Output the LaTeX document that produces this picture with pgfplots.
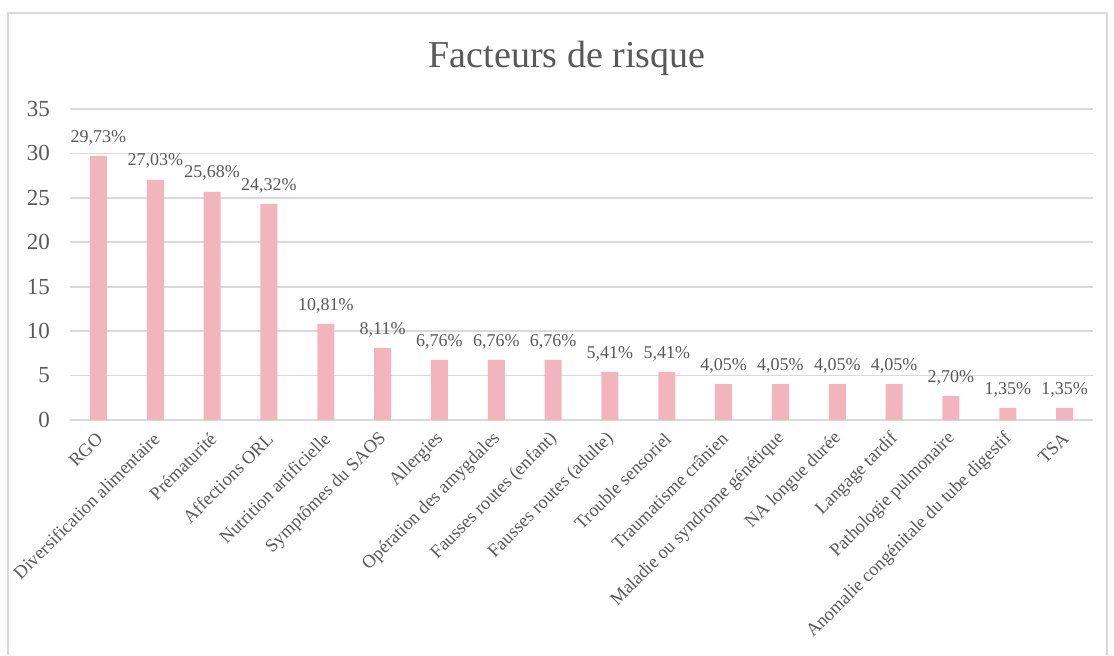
\documentclass[border=0pt]{standalone}
\usepackage{fontspec}
\setmainfont{Liberation Serif}
\usepackage{pgfplots}
\pgfplotsset{compat=1.18}
\definecolor{barPink}{HTML}{F2B5BE}
\definecolor{txtGray}{HTML}{595959}
\definecolor{gridGray}{HTML}{D9D9D9}

\begin{document}
\begin{tikzpicture}
  \useasboundingbox (0,0) rectangle (557pt,327.5pt);
  \draw[gridGray, line width=0.8pt] (4pt,0) -- (4pt,321pt) -- (553.5pt,321pt) -- (553.5pt,0);
  \node[txtGray, font=\fontsize{19}{21}\selectfont] at (283.5pt,298.5pt) {Facteurs de risque};
  \begin{axis}[
    at={(35pt,117.5pt)}, anchor=south west,
    scale only axis, width=511.5pt, height=155.5pt,
    ybar, bar width=8.5pt,
    xmin=-0.5, xmax=17.5, ymin=0, ymax=35,
    ytick={0,5,...,35},
    xtick={0,...,17},
    xticklabels={RGO, Diversification alimentaire, Prématurité, Affections ORL,
      Nutrition artificielle, Symptômes du SAOS, Allergies, Opération des amygdales,
      Fausses routes (enfant), Fausses routes (adulte), Trouble sensoriel,
      Traumatisme crânien, Maladie ou syndrome génétique, NA longue durée,
      Langage tardif, Pathologie pulmonaire, Anomalie congénitale du tube digestif, TSA},
    xticklabel style={xshift=3pt, yshift=-5.5pt, rotate=45, anchor=east, font=\fontsize{9.2}{10}\selectfont, text=txtGray},
    yticklabel style={font=\fontsize{11.5}{12}\selectfont, text=txtGray, xshift=-6.5pt},
    /pgf/number format/assume math mode=true,
    major tick length=0pt,
    axis line style={draw=none},
    ymajorgrids, grid style={gridGray, line width=0.8pt},
    nodes near coords={\pgfmathprintnumber[fixed,fixed zerofill,precision=2,use comma,assume math mode=true]{\pgfplotspointmeta}\%},
    nodes near coords style={font=\fontsize{9}{10}\selectfont, text=txtGray, yshift=2pt},
  ]
  \addplot[fill=barPink, draw=none] coordinates {
    (0,29.73) (1,27.03) (2,25.68) (3,24.32) (4,10.81) (5,8.11)
    (6,6.76) (7,6.76) (8,6.76) (9,5.41) (10,5.41) (11,4.05)
    (12,4.05) (13,4.05) (14,4.05) (15,2.70) (16,1.35) (17,1.35)};
  \end{axis}
\end{tikzpicture}
\end{document}
